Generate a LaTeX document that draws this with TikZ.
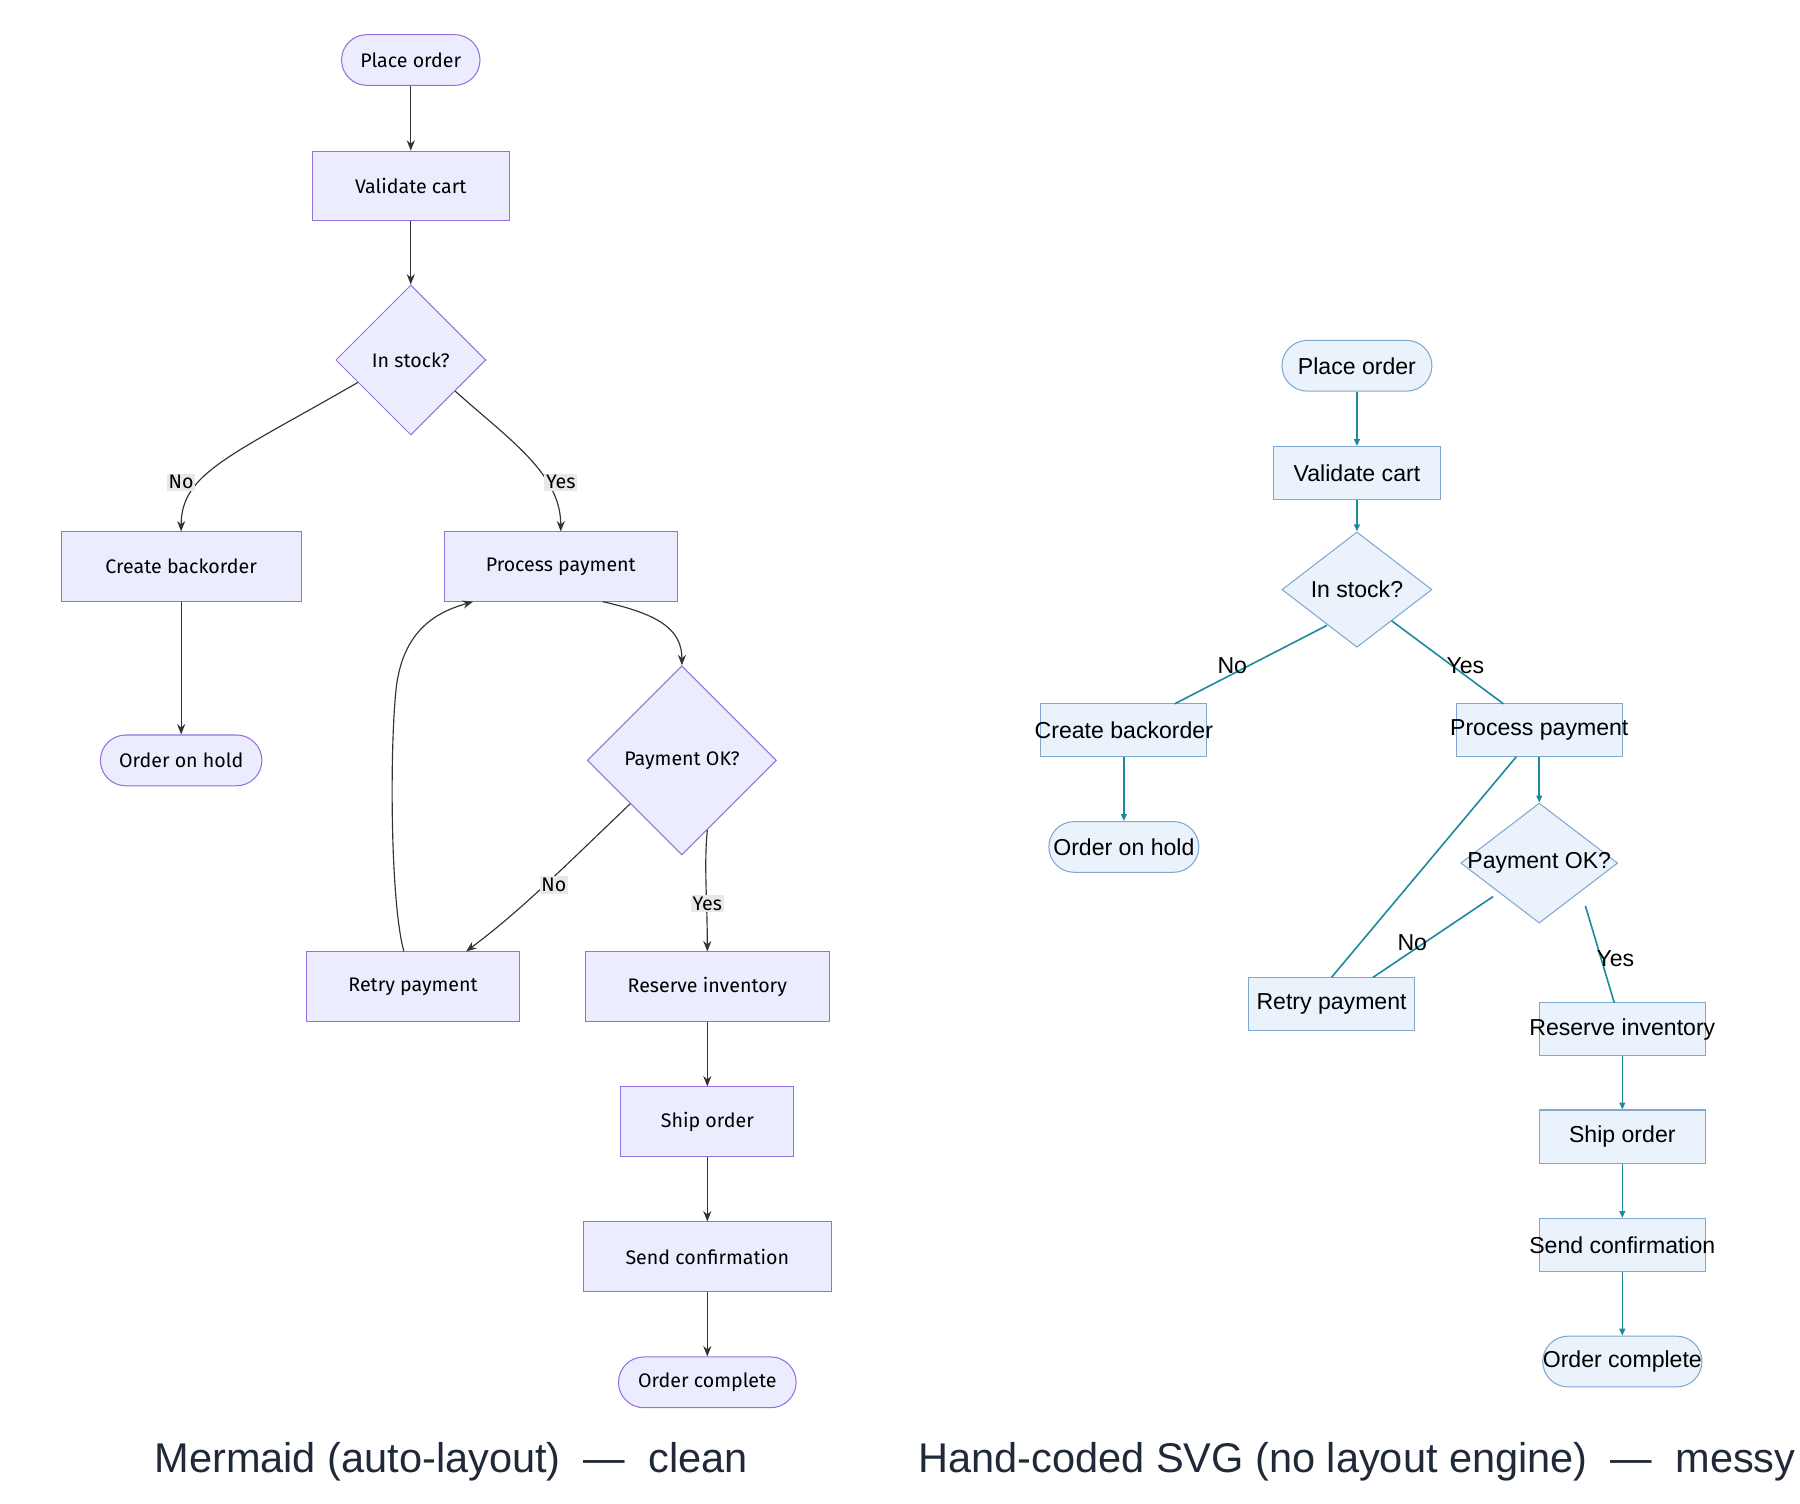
\documentclass[tikz,border=0pt]{standalone}
\usepackage{fontspec}
\setmainfont{Fira Sans}
\newfontfamily\rfont{Liberation Sans}
\usetikzlibrary{shapes.geometric,arrows.meta}
\definecolor{mfill}{HTML}{ECECFF}
\definecolor{mstroke}{HTML}{9370DB}
\definecolor{medge}{HTML}{333333}
\definecolor{rfill}{HTML}{EAF2FB}
\definecolor{rstroke}{HTML}{7FA8D0}
\definecolor{redge}{HTML}{1E8A9C}
\definecolor{ttl}{HTML}{1F2937}
\tikzset{
 mbase/.style={draw=mstroke,fill=mfill,line width=0.9pt,inner sep=0pt,font=\fontsize{17}{20}\selectfont},
 mbox/.style={mbase,rectangle,minimum height=60pt},
 mterm/.style={mbase,rectangle,rounded corners=22pt,minimum height=44pt},
 mdia/.style={mbase,diamond,aspect=1},
 medge/.style={draw=medge,line width=1pt,-{Stealth[length=9pt,width=7pt]}},
 mlab/.style={fill=black!9,inner sep=1.5pt,font=\fontsize{17}{20}\selectfont},
 rbase/.style={draw=rstroke,fill=rfill,line width=0.9pt,inner sep=0pt},
 rbox/.style={rbase,rectangle,minimum width=144pt,minimum height=46pt},
 rterm/.style={rbase,rectangle,rounded corners=22pt,minimum height=44pt},
 rtxt/.style={font=\rfont\fontsize{20}{24}\selectfont},
 redge/.style={draw=redge,line width=1.4pt},
 rarr/.style={redge,-{Triangle[length=6pt,width=5pt]}},
}
\begin{document}
\begin{tikzpicture}[x=1pt,y=-1pt]
\useasboundingbox (0,0) rectangle (1560,1303);
% ---------- Mermaid ----------
\node[mterm,minimum width=120pt] (po) at (356,52) {Place order};
\node[mbox,minimum width=171pt] (vc) at (356,161) {Validate cart};
\node[mdia,minimum width=130pt,minimum height=130pt] (is) at (356,312) {In stock?};
\node[mbox,minimum width=208pt] (cb) at (157,491) {Create backorder};
\node[mbox,minimum width=202pt] (pp) at (486,491) {Process payment};
\node[mterm,minimum width=140pt] (oh) at (157,659) {Order on hold};
\node[mdia,minimum width=164pt,minimum height=164pt] (pk) at (591,659) {Payment OK?};
\node[mbox,minimum width=185pt] (rp) at (358,855) {Retry payment};
\node[mbox,minimum width=211pt] (ri) at (613,855) {Reserve inventory};
\node[mbox,minimum width=150pt] (so) at (613,972) {Ship order};
\node[mbox,minimum width=215pt] (sc) at (613,1089) {Send confirmation};
\node[mterm,minimum width=154pt] (oc) at (613,1198) {Order complete};

\draw[medge] (po) -- (vc);
\draw[medge] (vc) -- (is);
\draw[medge] (is.-157) .. controls (200,395) and (157,410) .. (cb.north);
\draw[medge] (is.-35) .. controls (440,380) and (486,410) .. (pp.north);
\draw[medge] (cb) -- (oh);
\draw[medge] (pp.-40) .. controls (570,532) and (591,545) .. (pk.north);
\draw[medge] (pk.-140) .. controls (480,760) and (450,790) .. (rp.north -| 404,0);
\draw[medge] (pk.-70) .. controls (610,750) and (613,780) .. (ri.north);
\draw[medge] (rp.north -| 350,0) .. controls (338,780) and (338,650) .. (343,600) .. controls (348,545) and (380,530) .. (pp.south -| 410,0);
\draw[medge] (ri) -- (so);
\draw[medge] (so) -- (sc);
\draw[medge] (sc) -- (oc);
\node[mlab] (l1) at (157,418) {No};
\node[mlab] (l2) at (486,418) {Yes};
\node[mlab] (l3) at (480,767) {No};
\node[mlab] (l4) at (613,783) {Yes};

% ---------- Hand-coded ----------
\node[rterm,minimum width=130pt] (rpo) at (1176,317) {};
\node[rbox] (rvc) at (1176,410) {};
\node[rbase,diamond,aspect=1.3,minimum width=130pt,minimum height=100pt] (ris) at (1176,511) {};
\node[rbox] (rcb) at (974,633) {};
\node[rbox] (rpp) at (1334,633) {};
\node[rterm,minimum width=130pt] (roh) at (974,734) {};
\node[rbase,diamond,aspect=1.3,minimum width=136pt,minimum height=104pt] (rpk) at (1334,748) {};
\node[rbox] (rrp) at (1154,870) {};
\node[rbox] (rri) at (1406,892) {};
\node[rbox] (rso) at (1406,985) {};
\node[rbox] (rsc) at (1406,1079) {};
\node[rterm,minimum width=138pt] (roc) at (1406,1180) {};

\coordinate (a1) at (1150,542); \coordinate (a2) at (1018,610);
\coordinate (b1) at (1206,538); \coordinate (b2) at (1303,610);
\coordinate (c1) at (1314,656); \coordinate (c2) at (1154,847);
\coordinate (d1) at (1294,777); \coordinate (d2) at (1190,847);
\coordinate (e1) at (1374,785); \coordinate (e2) at (1399,869);
\draw[rarr] (rpo) -- (rvc);
\draw[rarr] (rvc) -- (ris);
\draw[redge] (a1) -- (a2);
\draw[redge] (b1) -- (b2);
\draw[rarr] (rcb) -- (roh);
\draw[redge] (c1) -- (c2);
\draw[rarr] (rpp) -- (rpk);
\draw[redge] (d1) -- (d2);
\draw[redge] (e1) -- (e2);
\draw[rarr] (rri) -- (rso);
\draw[rarr] (rso) -- (rsc);
\draw[rarr] (rsc) -- (roc);

\node[rtxt] (t1) at (rpo) {Place order};
\node[rtxt] (t2) at (rvc) {Validate cart};
\node[rtxt] (t3) at (ris) {In stock?};
\node[rtxt] (t4) at (rcb) {Create backorder};
\node[rtxt] (t5) at (rpp) {Process payment};
\node[rtxt] (t6) at (roh) {Order on hold};
\node[rtxt] (t7) at (rpk) {Payment OK?};
\node[rtxt] (t8) at (rrp) {Retry payment};
\node[rtxt] (t9) at (rri) {Reserve inventory};
\node[rtxt] (t10) at (rso) {Ship order};
\node[rtxt] (t11) at (rsc) {Send confirmation};
\node[rtxt] (t12) at (roc) {Order complete};
\node[rtxt] (rl1) at (1068,577) {No};
\node[rtxt] (rl2) at (1270,577) {Yes};
\node[rtxt] (rl3) at (1224,817) {No};
\node[rtxt] (rl4) at (1400,831) {Yes};

% ---------- Titles ----------
\node[font=\rfont\fontsize{36}{40}\selectfont,text=ttl] (h1) at (391,1267) {Mermaid (auto-layout)\ \ —\ \ clean};
\node[font=\rfont\fontsize{36}{40}\selectfont,text=ttl] (h2) at (1176,1267) {Hand-coded SVG (no layout engine)\ \ —\ \ messy};
\end{tikzpicture}
\end{document}
